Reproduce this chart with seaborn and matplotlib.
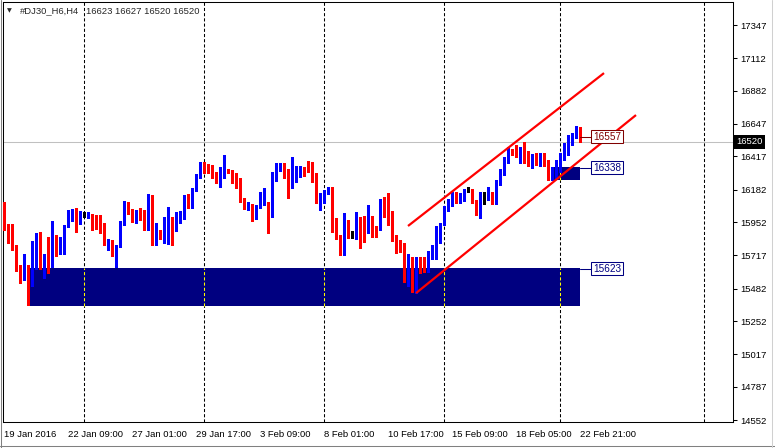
import numpy as np
import pandas as pd
import matplotlib
matplotlib.use("Agg")
import matplotlib.pyplot as plt
from matplotlib.patches import Rectangle
from matplotlib.lines import Line2D
import seaborn as sns

sns.set_style("white")
plt.rcParams['font.family'] = ['Liberation Sans', 'DejaVu Sans']

# H4 candles of #DJ30_H6, 19 Jan 2016 .. 22 Feb 2016 21:00
opens = [16087, 15925, 15882, 15776, 15642, 15578, 15635, 15550, 15635, 15868,
         15635, 15670, 15642, 15847, 15748, 15805, 15918, 15967, 16038, 15988,
         16003, 15995, 16010, 15974, 15946, 15925, 15812, 15812, 15727, 15776,
         15932, 16059, 16003, 15988, 16031, 16010, 15960, 16095, 15854, 15896,
         15861, 15861, 15981, 15896, 15953, 16003, 16123, 16080, 16180, 16272,
         16371, 16360, 16356, 16300, 16236, 16307, 16321, 16307, 16293, 16229,
         16116, 16052, 16073, 16003, 16052, 16073, 16087, 15988, 16250, 16321,
         16364, 16321, 16272, 16279, 16300, 16314, 16371, 16364, 16257, 16109,
         16123, 16158, 16194, 15925, 15854, 15727, 15967, 15875, 15861, 15974,
         15953, 15882, 15953, 15910, 15896, 16095, 16059, 15981, 15833, 15805,
         15783, 15599, 15698, 15521, 15635, 15628, 15606, 15698, 15698, 15812,
         15932, 16038, 16087, 16144, 16116, 16109, 16180, 16180, 16102, 16024,
         16137, 16123, 16158, 16095, 16229, 16307, 16392, 16449, 16477, 16442,
         16477, 16449, 16378, 16413, 16371, 16435, 16378, 16286, 16286, 16321,
         16413, 16442, 16548, 16555, 16623]
highs = [16095, 15939, 15939, 15790, 15649, 15727, 15649, 15819, 15875, 15882,
         15727, 15847, 15960, 15861, 15847, 15932, 16038, 16045, 16052, 16031,
         16024, 16024, 16010, 16003, 16003, 15946, 15833, 15826, 15790, 15960,
         16102, 16095, 16045, 16038, 16052, 16038, 16151, 16144, 15946, 15896,
         15988, 16059, 15988, 16024, 16031, 16144, 16151, 16194, 16293, 16378,
         16378, 16364, 16356, 16307, 16342, 16427, 16328, 16321, 16300, 16265,
         16123, 16095, 16080, 16073, 16166, 16194, 16095, 16307, 16371, 16371,
         16371, 16328, 16413, 16349, 16349, 16342, 16385, 16378, 16300, 16158,
         16180, 16201, 16201, 15981, 15861, 16017, 15967, 15889, 16024, 15988,
         15995, 16073, 15995, 15925, 16116, 16130, 16158, 16031, 15861, 15826,
         15805, 15727, 15706, 15706, 15706, 15706, 15748, 15790, 15925, 15946,
         16066, 16116, 16166, 16166, 16158, 16187, 16201, 16187, 16109, 16166,
         16166, 16201, 16166, 16250, 16328, 16413, 16484, 16470, 16498, 16484,
         16519, 16456, 16435, 16442, 16442, 16442, 16392, 16342, 16392, 16442,
         16512, 16569, 16583, 16632, 16627]
lows = [15896, 15805, 15755, 15606, 15521, 15543, 15366, 15500, 15620, 15620,
        15557, 15592, 15635, 15713, 15727, 15727, 15918, 15960, 15882, 15939,
        15988, 15981, 15896, 15903, 15875, 15790, 15755, 15713, 15635, 15776,
        15932, 16010, 15953, 15946, 15967, 15896, 15896, 15790, 15790, 15833,
        15805, 15798, 15790, 15889, 15946, 15974, 16052, 16052, 16173, 16265,
        16300, 16300, 16265, 16229, 16201, 16265, 16300, 16229, 16194, 16095,
        16045, 16038, 15960, 15974, 16052, 16073, 15875, 15988, 16243, 16314,
        16265, 16123, 16194, 16236, 16272, 16279, 16307, 16236, 16088, 16038,
        16088, 16151, 15882, 15833, 15720, 15720, 15840, 15840, 15833, 15769,
        15812, 15875, 15847, 15847, 15896, 15988, 15932, 15819, 15734, 15741,
        15528, 15500, 15458, 15450, 15592, 15599, 15599, 15691, 15691, 15805,
        15932, 16031, 16066, 16087, 16088, 16102, 16166, 16088, 16003, 15981,
        16080, 16109, 16080, 16080, 16215, 16286, 16371, 16427, 16413, 16371,
        16371, 16349, 16335, 16356, 16349, 16349, 16250, 16250, 16265, 16307,
        16392, 16427, 16498, 16548, 16520]
closes = [15910, 15896, 15769, 15635, 15578, 15620, 15550, 15691, 15868, 15635,
          15670, 15642, 15847, 15769, 15805, 15925, 15974, 16038, 15988, 16010,
          16003, 16017, 15960, 15939, 15925, 15812, 15819, 15720, 15783, 15939,
          16066, 16017, 15988, 16031, 16003, 15960, 16095, 15854, 15896, 15854,
          15918, 15981, 15854, 15988, 16017, 16123, 16080, 16180, 16272, 16371,
          16349, 16349, 16300, 16236, 16314, 16321, 16307, 16286, 16229, 16116,
          16052, 16088, 16003, 16052, 16066, 16095, 15988, 16265, 16335, 16364,
          16314, 16265, 16286, 16307, 16314, 16300, 16307, 16250, 16109, 16123,
          16166, 16194, 15918, 15847, 15727, 15981, 15861, 15875, 15974, 15932,
          15875, 15925, 15903, 15896, 16095, 16059, 15981, 15826, 15805, 15776,
          15599, 15698, 15521, 15691, 15599, 15606, 15706, 15720, 15833, 15932,
          16045, 16087, 16144, 16123, 16130, 16180, 16180, 16102, 16031, 16144,
          16137, 16158, 16095, 16236, 16314, 16399, 16463, 16442, 16435, 16463,
          16378, 16371, 16406, 16378, 16427, 16371, 16286, 16335, 16378, 16413,
          16484, 16555, 16569, 16625, 16520]

x_label_bars = [1, 17, 33, 49, 65, 81, 97, 113, 129, 145]
x_labels = ["19 Jan 2016", "22 Jan 09:00", "27 Jan 01:00", "29 Jan 17:00",
            "3 Feb 09:00", "8 Feb 01:00", "10 Feb 17:00", "15 Feb 09:00",
            "18 Feb 05:00", "22 Feb 21:00"]
y_ticks = [17347, 17112, 16882, 16647, 16417, 16182, 15952, 15717,
           15482, 15252, 15017, 14787, 14552]
week_bars = [21, 51, 81, 111, 140, 176]
last_price = 16520

# support / resistance zones: start bar, end bar, low, high
zone_start = [7, 138]
zone_end = [145, 145]
zone_low = [15360, 16250]
zone_high = [15627, 16342]

# channel lines (bar, price) pairs
upper_line = ([102, 151], [15925, 17007])
lower_line = ([104, 159], [15450, 16710])

label_prices = [16557, 16338, 15623]
label_colors = ['#800000', '#000080', '#000080']

df = pd.DataFrame({'open': opens, 'high': highs, 'low': lows, 'close': closes})
df['bar'] = np.arange(1, len(df) + 1)
df['color'] = np.where(df['close'] > df['open'], '#0000FF',
                       np.where(df['close'] < df['open'], '#FF0000', '#000000'))
df['body_lo'] = df[['open', 'close']].min(axis=1)
df['body_h'] = (df['close'] - df['open']).abs()

fig = plt.figure(figsize=(7.75, 4.48), dpi=100)
ax = fig.add_axes([3 / 775, 1 - 422 / 448, 730 / 775, 420 / 448])
ax.set_xlim(0.75, 183.25)
ax.set_ylim(14538, 17510)

# weekly separators
dash = (0, (3, 2))
for b in week_bars:
    ax.axvline(b, color='black', lw=0.75, ls=dash, zorder=1)

ax.axhline(last_price, color='#C0C0C0', lw=0.75, zorder=1.5)

# zones (drawn behind candles) with the grid showing through in yellow
for x0, x1, lo, hi in zip(zone_start, zone_end, zone_low, zone_high):
    ax.add_patch(Rectangle((x0, lo), x1 - x0, hi - lo, facecolor='#000080',
                           lw=0, zorder=2))
    for b in week_bars:
        if x0 < b < x1:
            ax.vlines(b, lo, hi, color='#FFFF00', lw=0.75, ls=dash, zorder=3)

# candles
ax.vlines(df['bar'], df['low'], df['high'], colors=df['color'], lw=0.75,
          zorder=4, antialiased=False)
ax.bar(df['bar'], df['body_h'], bottom=df['body_lo'], width=0.7,
       color=df['color'], linewidth=0, zorder=5, antialiased=False)
doji = df[df['body_h'] == 0]
ax.hlines(doji['close'], doji['bar'] - 0.35, doji['bar'] + 0.35,
          colors=doji['color'], lw=0.75, zorder=5, antialiased=False)

# channel
ax.plot(*upper_line, color='#FF0000', lw=1.6, zorder=6, solid_capstyle='butt')
ax.plot(*lower_line, color='#FF0000', lw=1.6, zorder=6, solid_capstyle='butt')

# price labels to the right of the zones
for p, c in zip(label_prices, label_colors):
    ax.plot([145, 147.8], [p, p], color=c, lw=0.75, zorder=6)
    ax.text(148.3, p, str(p), va='center', ha='left', fontsize=7.2, color=c,
            zorder=7, bbox=dict(boxstyle='square,pad=0.18', fc='white', ec=c, lw=0.75))

# axes styling
for s in ax.spines.values():
    s.set_color('black')
    s.set_linewidth(0.75)
ax.yaxis.tick_right()
ax.set_yticks(y_ticks)
ax.set_yticklabels([str(v) for v in y_ticks])
ax.set_xticks(x_label_bars)
ax.set_xticklabels(x_labels)
for lab in ax.get_xticklabels():
    lab.set_horizontalalignment('left')
ax.tick_params(axis='both', direction='out', length=3, width=0.75,
               labelsize=6.8, pad=2, colors='black')
ax.tick_params(axis='x', pad=3)
ax.grid(False)

# current price marker on the price scale
ax.text(1.0 + 3 / 730, last_price, str(last_price), transform=ax.get_yaxis_transform(),
        va='center', ha='left', fontsize=6.8, color='white', zorder=8, clip_on=False,
        bbox=dict(boxstyle='square,pad=0.3', fc='black', ec='black', lw=0))

# header
fig.text(7 / 775, 1 - 11 / 448, "\u25BC", fontsize=4.5, va='center', ha='left',
         family=['DejaVu Sans'])
fig.text(19.5 / 775, 1 - 11 / 448, "#DJ30_H6,H4", fontsize=6.8, va='center', ha='left')
fig.text(86 / 775, 1 - 11 / 448, "16623 16627 16520 16520", fontsize=6.8,
         va='center', ha='left')

# window frame
fig.add_artist(Line2D([0, 1], [1 - 445.5 / 448] * 2, color='#808080', lw=0.75))
fig.add_artist(Line2D([771.5 / 775] * 2, [0, 1], color='#D0D0D0', lw=0.75))
fig.add_artist(Line2D([0.5 / 775] * 2, [0, 1], color='#808080', lw=0.75))

fig.savefig('out.png', dpi=100, facecolor='white')
